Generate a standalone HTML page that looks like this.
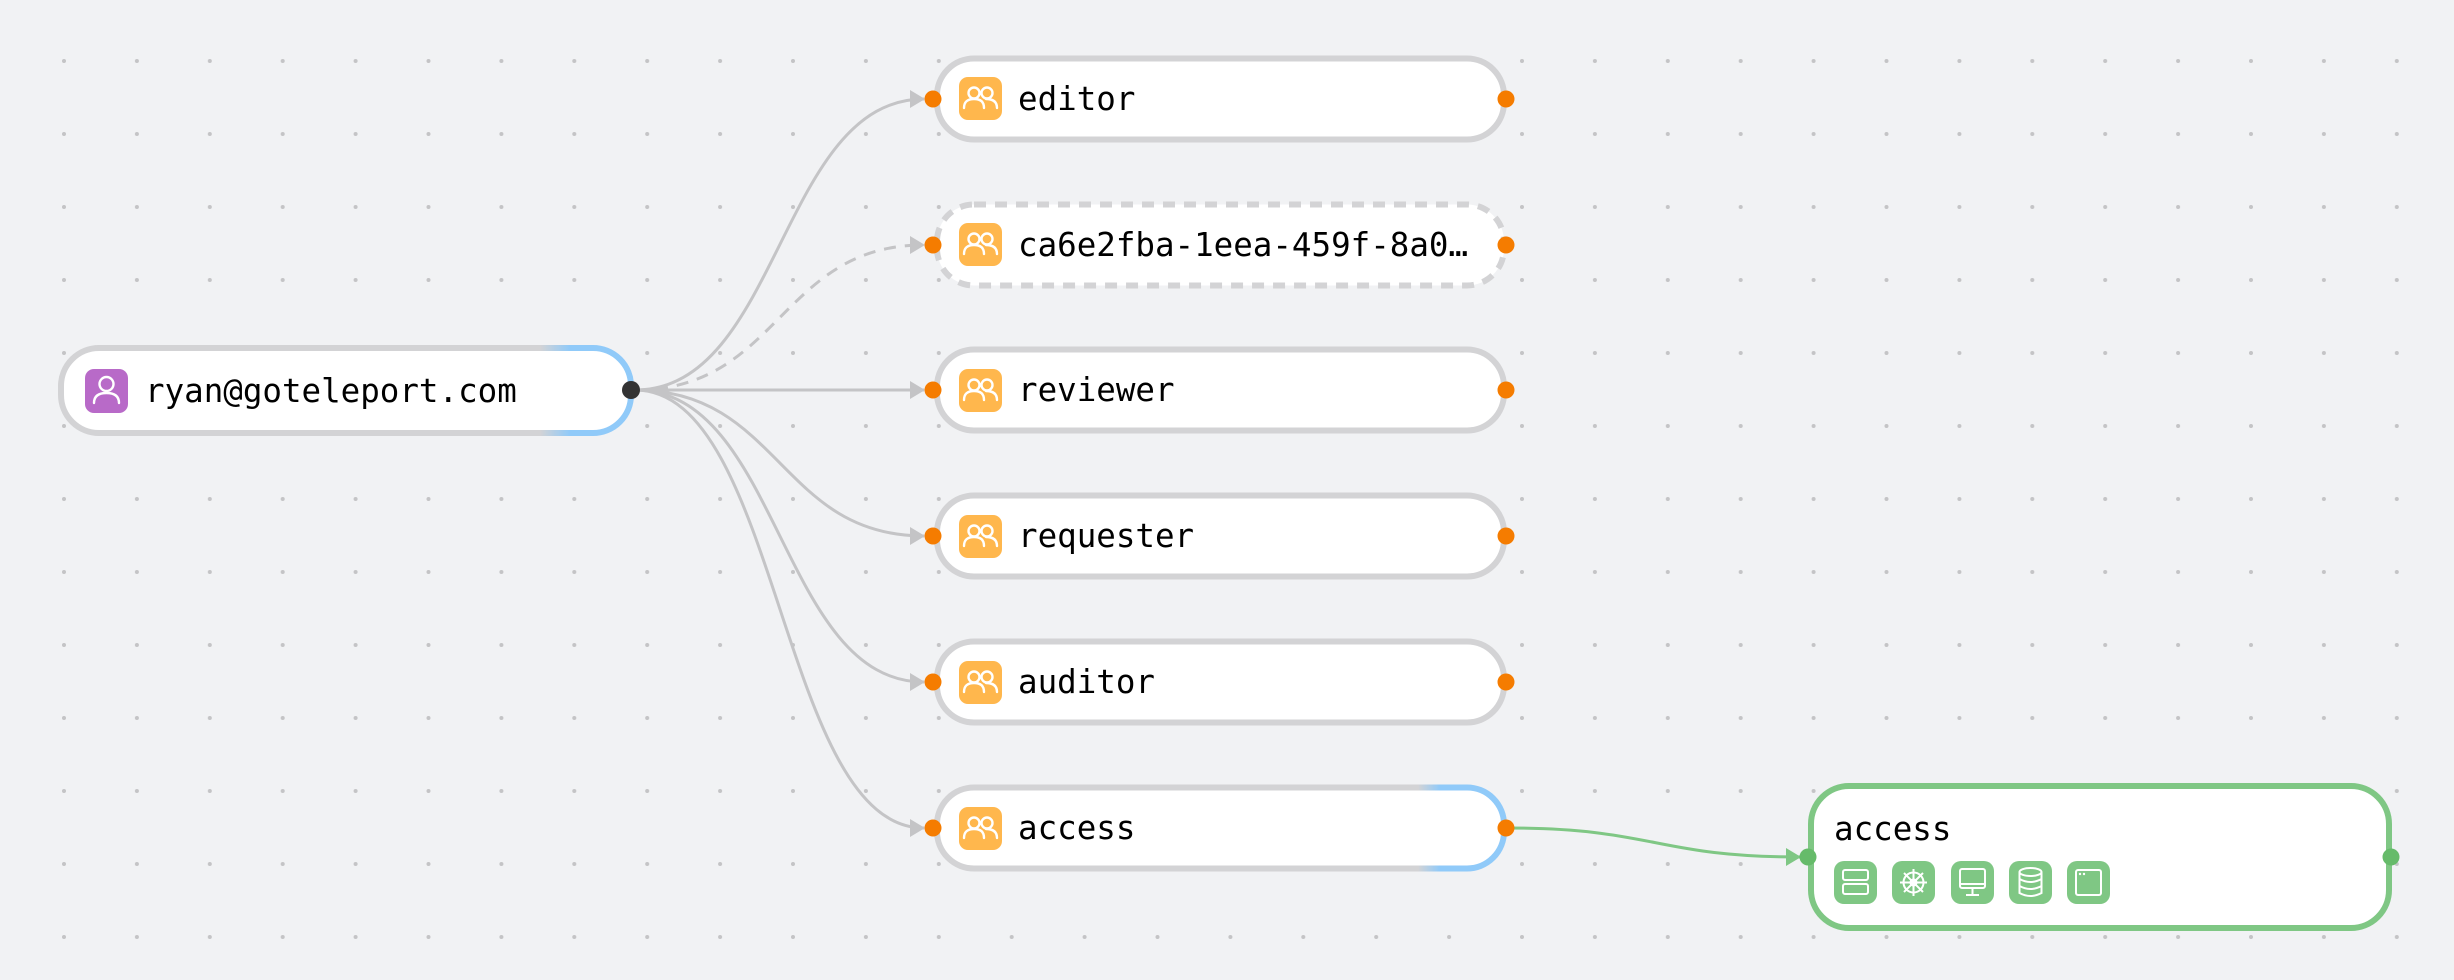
<!DOCTYPE html>
<html><head><meta charset="utf-8"><style>
html,body{margin:0;padding:0;background:#f1f2f4;}
svg{display:block}
text{font-family:"DejaVu Sans Mono","Liberation Mono",monospace;font-size:32.5px;fill:#000;}
</style></head><body>
<svg width="2454" height="980" viewBox="0 0 2454 980" xmlns="http://www.w3.org/2000/svg">
<defs>
<pattern id="dots" x="61" y="58" width="72.9" height="73" patternUnits="userSpaceOnUse">
<circle cx="3" cy="3" r="2" fill="#c4c4c6"/>
</pattern>
<linearGradient id="gL" gradientUnits="userSpaceOnUse" x1="540" y1="0" x2="570" y2="0">
<stop offset="0" stop-color="#d3d3d5"/><stop offset="1" stop-color="#90caf9"/></linearGradient>
<linearGradient id="gA" gradientUnits="userSpaceOnUse" x1="1418" y1="0" x2="1440" y2="0">
<stop offset="0" stop-color="#d3d3d5"/><stop offset="1" stop-color="#90caf9"/></linearGradient>
<marker id="ar" markerWidth="16" markerHeight="18" refX="14" refY="9" orient="auto" markerUnits="userSpaceOnUse">
<path d="M0,0 L15,9 L0,18 z" fill="#c4c4c6"/></marker>
<marker id="ag" markerWidth="16" markerHeight="18" refX="14" refY="9" orient="auto" markerUnits="userSpaceOnUse">
<path d="M0,0 L15,9 L0,18 z" fill="#7fc784"/></marker>
<g id="ppl">
<circle cx="-6" cy="-4" r="5.5" fill="none" stroke="#fff" stroke-width="2.4"/>
<circle cx="7" cy="-4" r="5.5" fill="none" stroke="#fff" stroke-width="2.4"/>
<path d="M-16,11 Q-16,2 -6,2 Q4,2 4,11" fill="none" stroke="#fff" stroke-width="2.4" stroke-linecap="round"/>
<path d="M6,2 Q17,2 17,11" fill="none" stroke="#fff" stroke-width="2.4" stroke-linecap="round"/>
</g>
</defs>
<rect width="2454" height="980" fill="#f1f2f4"/>
<rect width="2454" height="980" fill="url(#dots)"/>

<g fill="none" stroke="#c4c4c6" stroke-width="3">
<path d="M635,390 C780,390 780,99 924,99" marker-end="url(#ar)"/>
<path d="M635,390 C780,390 780,245 924,245" stroke-dasharray="12,9" marker-end="url(#ar)"/>
<path d="M635,390 L924,390" marker-end="url(#ar)"/>
<path d="M635,390 C780,390 780,536 924,536" marker-end="url(#ar)"/>
<path d="M635,390 C780,390 780,682 924,682" marker-end="url(#ar)"/>
<path d="M635,390 C780,390 780,828 924,828" marker-end="url(#ar)"/>
</g>
<path d="M1507,828 C1655,828 1655,857 1800,857" fill="none" stroke="#7fc784" stroke-width="3" marker-end="url(#ag)"/>

<rect x="61" y="348" width="570" height="85" rx="38" fill="#fff" stroke="url(#gL)" stroke-width="6"/>
<rect x="85" y="369" width="43" height="44" rx="9" fill="#b86ac8"/>
<circle cx="106.5" cy="384" r="7" fill="none" stroke="#fff" stroke-width="2.4"/>
<path d="M94,403 Q94,393 106.5,393 Q119,393 119,403" fill="none" stroke="#fff" stroke-width="2.4" stroke-linecap="round"/>
<text x="145" y="402">ryan@goteleport.com</text>
<circle cx="631" cy="390" r="9" fill="#333"/>

<g>
<rect x="937" y="58.5" width="567" height="81" rx="37" fill="#fff" stroke="#d3d3d5" stroke-width="6"/>
<rect x="937" y="204.5" width="567" height="81" rx="37" fill="#fff" stroke="#d3d3d5" stroke-width="6" stroke-dasharray="12,9"/>
<rect x="937" y="349.5" width="567" height="81" rx="37" fill="#fff" stroke="#d3d3d5" stroke-width="6"/>
<rect x="937" y="495.5" width="567" height="81" rx="37" fill="#fff" stroke="#d3d3d5" stroke-width="6"/>
<rect x="937" y="641.5" width="567" height="81" rx="37" fill="#fff" stroke="#d3d3d5" stroke-width="6"/>
<rect x="937" y="787.5" width="567" height="81" rx="37" fill="#fff" stroke="url(#gA)" stroke-width="6"/>
</g>
<g fill="#ffb74d">
<rect x="959" y="77" width="43" height="43" rx="9"/>
<rect x="959" y="223" width="43" height="43" rx="9"/>
<rect x="959" y="369" width="43" height="43" rx="9"/>
<rect x="959" y="515" width="43" height="43" rx="9"/>
<rect x="959" y="661" width="43" height="43" rx="9"/>
<rect x="959" y="807" width="43" height="43" rx="9"/>
</g>
<use href="#ppl" x="980" y="97"/>
<use href="#ppl" x="980" y="243"/>
<use href="#ppl" x="980" y="389"/>
<use href="#ppl" x="980" y="535"/>
<use href="#ppl" x="980" y="681"/>
<use href="#ppl" x="980" y="827"/>
<text x="1018" y="110">editor</text>
<text x="1018" y="256">ca6e2fba-1eea-459f-8a0…</text>
<text x="1018" y="401">reviewer</text>
<text x="1018" y="547">requester</text>
<text x="1018" y="693">auditor</text>
<text x="1018" y="839">access</text>
<g fill="#f57c00">
<circle cx="933" cy="99" r="8.5"/><circle cx="1506" cy="99" r="8.5"/>
<circle cx="933" cy="245" r="8.5"/><circle cx="1506" cy="245" r="8.5"/>
<circle cx="933" cy="390" r="8.5"/><circle cx="1506" cy="390" r="8.5"/>
<circle cx="933" cy="536" r="8.5"/><circle cx="1506" cy="536" r="8.5"/>
<circle cx="933" cy="682" r="8.5"/><circle cx="1506" cy="682" r="8.5"/>
<circle cx="933" cy="828" r="8.5"/><circle cx="1506" cy="828" r="8.5"/>
</g>

<rect x="1811" y="786" width="578" height="142" rx="38" fill="#fff" stroke="#7fc784" stroke-width="6"/>
<text x="1834" y="840">access</text>
<g fill="#7fc784">
<rect x="1834" y="861" width="43" height="43" rx="10"/>
<rect x="1892" y="861" width="43" height="43" rx="10"/>
<rect x="1951" y="861" width="43" height="43" rx="10"/>
<rect x="2009" y="861" width="43" height="43" rx="10"/>
<rect x="2067" y="861" width="43" height="43" rx="10"/>
</g>
<g fill="none" stroke="#fff" stroke-width="2">
<rect x="1843" y="870" width="25" height="10" rx="2"/><rect x="1843" y="884" width="25" height="10" rx="2"/>
<circle cx="1913.5" cy="882.5" r="10"/><circle cx="1913.5" cy="882.5" r="3"/>
<path d="M1913.5,869 V896 M1900,882.5 H1927 M1904,873 L1923,892 M1923,873 L1904,892"/>
<rect x="1960" y="869" width="25" height="19" rx="2"/><path d="M1960,884 H1985 M1972.5,888 V895 M1966,895 H1979"/>
<ellipse cx="2030.5" cy="872" rx="11" ry="4"/><path d="M2019.5,872 V893 Q2030.5,899 2041.5,893 V872 M2019.5,879 Q2030.5,885 2041.5,879 M2019.5,886 Q2030.5,892 2041.5,886"/>
<rect x="2076" y="870" width="25" height="25" rx="2"/>
</g>
<circle cx="2080" cy="874" r="1.2" fill="#fff"/><circle cx="2084" cy="874" r="1.2" fill="#fff"/>
<circle cx="1808" cy="857" r="8.5" fill="#66bb6a"/>
<circle cx="2391" cy="857" r="8.5" fill="#66bb6a"/>
</svg>
</body></html>
